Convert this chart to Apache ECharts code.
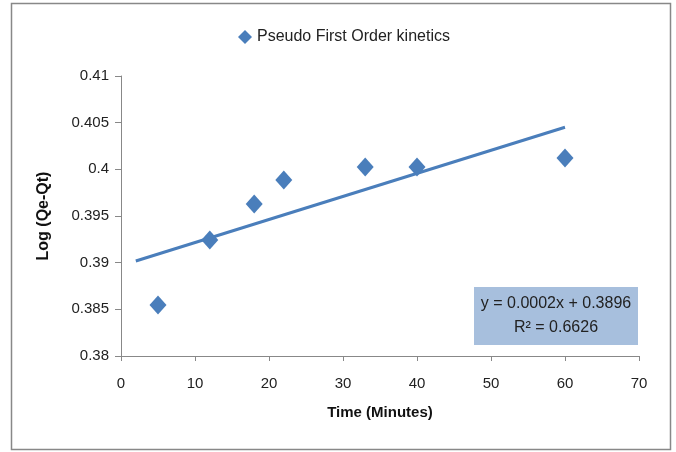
<!DOCTYPE html>
<html>
<head>
<meta charset="utf-8">
<script src="https://cdn.jsdelivr.net/npm/echarts@6/dist/echarts.min.js"></script>
<style>html,body{margin:0;padding:0;background:#fff;}#c{width:676px;height:452px;}</style>
</head>
<body>
<div id="c"></div>
<script>
var timeMinutes = [5, 12, 18, 22, 33, 40, 60];
var logQeQt = [0.38546, 0.39243, 0.39629, 0.39886, 0.40025, 0.40025, 0.40121];
var trendRange = [2, 60];
var seriesName = 'Pseudo First Order kinetics';
var equationText = 'y = 0.0002x + 0.3896';
var r2Text = 'R² = 0.6626';

// least squares trendline
var n = timeMinutes.length, mx = 0, my = 0;
for (var i = 0; i < n; i++) { mx += timeMinutes[i]; my += logQeQt[i]; }
mx /= n; my /= n;
var sxy = 0, sxx = 0;
for (var i = 0; i < n; i++) { sxy += (timeMinutes[i]-mx)*(logQeQt[i]-my); sxx += (timeMinutes[i]-mx)*(timeMinutes[i]-mx); }
var slope = sxy / sxx, intercept = my - slope * mx;
var trendData = trendRange.map(function(x){ return [x, intercept + slope * x]; });

var chart = echarts.init(document.getElementById('c'));
var font = 'Liberation Sans, Arial, sans-serif';
chart.setOption({
  animation: false,
  textStyle: { fontFamily: font },
  grid: { left: 121, right: 37, top: 76, bottom: 96 },
  legend: {
    data: [{ name: seriesName, icon: 'diamond' }],
    top: 24, left: 233, itemWidth: 14, itemHeight: 14, itemGap: 6,
    textStyle: { fontSize: 16, color: '#222', fontFamily: font }
  },
  xAxis: {
    type: 'value', min: 0, max: 70, interval: 10,
    name: 'Time (Minutes)', nameLocation: 'middle', nameGap: 49,
    nameTextStyle: { fontSize: 15, fontWeight: 'bold', color: '#111' },
    axisLine: { lineStyle: { color: '#888' } },
    axisTick: { show: true, length: 5, lineStyle: { color: '#888' } },
    axisLabel: { fontSize: 15, color: '#222', margin: 20 },
    splitLine: { show: false }
  },
  yAxis: {
    type: 'value', min: 0.38, max: 0.41, interval: 0.005,
    name: 'Log (Qe-Qt)', nameLocation: 'middle', nameGap: 69,
    nameTextStyle: { fontSize: 16, fontWeight: 'bold', color: '#111' },
    axisLine: { show: true, lineStyle: { color: '#888' } },
    axisTick: { show: true, length: 6, lineStyle: { color: '#888' } },
    axisLabel: { fontSize: 15, color: '#222', margin: 12, formatter: function(v){ return String(+v.toFixed(3)); } },
    splitLine: { show: false }
  },
  graphic: [
    { type: 'rect', shape: { x: 11.5, y: 3.5, width: 659, height: 446 }, style: { fill: 'none', stroke: '#888', lineWidth: 1.5 }, z: 100 },
    { type: 'rect', shape: { x: 474, y: 287, width: 164, height: 58 }, style: { fill: '#a7bfdd' }, z: 10 },
    { type: 'text', x: 556, y: 296, style: { text: equationText, font: '16px ' + font, fill: '#222', textAlign: 'center' }, z: 11 },
    { type: 'text', x: 556, y: 320, style: { text: r2Text, font: '16px ' + font, fill: '#222', textAlign: 'center' }, z: 11 }
  ],
  series: [
    { name: seriesName, type: 'scatter', data: timeMinutes.map(function(x,i){ return [x, logQeQt[i]]; }),
      symbol: 'diamond', symbolSize: [17, 19], itemStyle: { color: '#4a7ebb', opacity: 1 }, z: 3 },
    { name: 'trend', type: 'line', data: trendData, symbol: 'none', lineStyle: { color: '#4a7ebb', width: 3 }, z: 2 }
  ]
});
</script>
</body>
</html>
